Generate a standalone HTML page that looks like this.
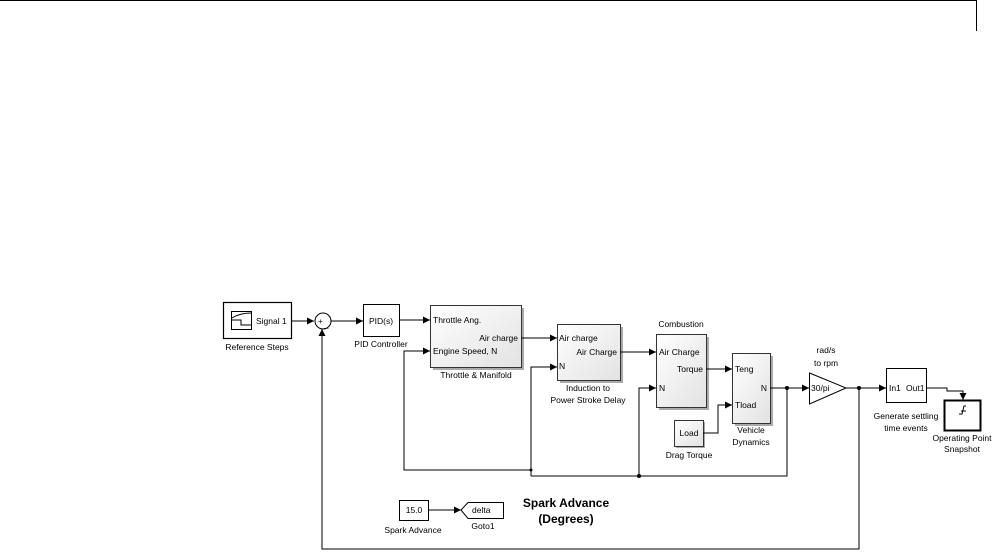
<!DOCTYPE html>
<html><head><meta charset="utf-8"><style>
html,body{margin:0;padding:0;background:#fff;}
svg{display:block;font-family:"Liberation Sans",Arial,sans-serif;}
</style></head><body>
<svg width="1000" height="557" viewBox="0 0 1000 557" xmlns="http://www.w3.org/2000/svg">
<defs>
<marker id="a" markerWidth="8" markerHeight="8" refX="7" refY="4" orient="auto" markerUnits="userSpaceOnUse"><path d="M0,0.5 L7,4 L0,7.5 z" fill="#000"/></marker>
<linearGradient id="g" x1="0" y1="0" x2="1" y2="1"><stop offset="0" stop-color="#fff"/><stop offset="1" stop-color="#e2e2e2"/></linearGradient>
</defs>
<line x1="0" y1="0.5" x2="976" y2="0.5" stroke="#000"/>
<line x1="976.5" y1="0" x2="976.5" y2="31" stroke="#000"/>
<g fill="none" stroke="#000" stroke-width="1">
<!-- Reference steps -->
<rect x="223.5" y="302.5" width="68" height="36" fill="#fff" stroke-width="1.2"/>
<rect x="231.5" y="311.5" width="20" height="18" fill="#fff"/>
<path d="M232,318 Q240,313 251,313 M232,320 H241 V325 H251"/>
<circle cx="323" cy="321" r="8" fill="#fff"/>
<rect x="363.5" y="304.5" width="36" height="32" fill="#fff"/>
<rect x="433" y="308" width="91" height="62" fill="#aaa" stroke="none"/>
<rect x="430.5" y="305.5" width="91" height="62" fill="url(#g)" stroke="#333"/>
<rect x="560" y="327" width="63" height="56" fill="#aaa" stroke="none"/>
<rect x="557.5" y="324.5" width="63" height="56" fill="url(#g)" stroke="#333"/>
<rect x="659" y="337" width="50" height="73" fill="#aaa" stroke="none"/>
<rect x="656.5" y="334.5" width="50" height="73" fill="url(#g)" stroke="#333"/>
<rect x="735" y="356" width="38" height="70" fill="#aaa" stroke="none"/>
<rect x="732.5" y="353.5" width="38" height="70" fill="url(#g)" stroke="#333"/>
<rect x="676" y="422" width="29" height="26" fill="#aaa" stroke="none"/>
<rect x="674.5" y="420.5" width="29" height="26" fill="url(#g)" stroke="#333"/>
<path d="M809.5,373 L846,388 L809.5,404 Z" fill="#fff"/>
<rect x="886.5" y="368.5" width="40" height="34" fill="#fff"/>
<rect x="944.5" y="400.5" width="36" height="30" fill="#fff" stroke-width="2"/>
<path d="M959,414 L962,414 L964,406 L966,406 M961,411 L966,411"/>
<rect x="399.5" y="500.5" width="29" height="20" fill="#fff"/>
<path d="M461,510 L468,502.5 H503.5 V518.5 H468 Z" fill="#fff"/>
<!-- connectors -->
<line x1="291" y1="321" x2="314" y2="321" marker-end="url(#a)"/>
<line x1="331" y1="321" x2="363" y2="321" marker-end="url(#a)"/>
<line x1="399" y1="320" x2="430" y2="320" marker-end="url(#a)"/>
<line x1="521" y1="338" x2="557" y2="338" marker-end="url(#a)"/>
<line x1="620" y1="352" x2="656" y2="352" marker-end="url(#a)"/>
<line x1="706" y1="369" x2="732" y2="369" marker-end="url(#a)"/>
<polyline points="703,433 718,433 718,405 732,405" marker-end="url(#a)"/>
<line x1="770" y1="388" x2="809" y2="388" marker-end="url(#a)"/>
<line x1="846" y1="388" x2="886" y2="388" marker-end="url(#a)"/>
<polyline points="926,388 947,388 947,391 963,391 963,400" marker-end="url(#a)"/>
<polyline points="787,388 787,476 531,476"/>
<polyline points="531,470 404,470 404,351 430,351" marker-end="url(#a)"/>
<polyline points="531,476 531,367 557,367" marker-end="url(#a)"/>
<polyline points="639,476 639,388 656,388" marker-end="url(#a)"/>
<polyline points="859,388 859,549 322,549 322,329" marker-end="url(#a)"/>
<line x1="428" y1="510" x2="461" y2="510" marker-end="url(#a)"/>
</g>
<g fill="#000">
<circle cx="787" cy="388" r="2"/><circle cx="859" cy="388" r="2"/>
<circle cx="639" cy="476" r="2"/><circle cx="531" cy="470" r="1.5"/>
</g>
<g font-size="8.5" fill="#000">
<text x="256" y="324">Signal 1</text>
<text x="257" y="350" text-anchor="middle">Reference Steps</text>
<text x="318" y="324" font-size="8">+</text><text x="324" y="327" font-size="8">_</text>
<text x="381" y="324" text-anchor="middle">PID(s)</text>
<text x="381" y="347" text-anchor="middle">PID Controller</text>
<text x="433" y="323">Throttle Ang.</text>
<text x="518" y="341" text-anchor="end">Air charge</text>
<text x="433" y="354">Engine Speed, N</text>
<text x="476" y="378" text-anchor="middle">Throttle &amp; Manifold</text>
<text x="559" y="341">Air charge</text>
<text x="617" y="355" text-anchor="end">Air Charge</text>
<text x="559" y="369">N</text>
<text x="588" y="391" text-anchor="middle">Induction to</text>
<text x="588" y="403" text-anchor="middle">Power Stroke Delay</text>
<text x="681" y="327" text-anchor="middle">Combustion</text>
<text x="659" y="355">Air Charge</text>
<text x="703" y="372" text-anchor="end">Torque</text>
<text x="659" y="391">N</text>
<text x="735" y="372">Teng</text>
<text x="767" y="391" text-anchor="end">N</text>
<text x="735" y="408">Tload</text>
<text x="751" y="433" text-anchor="middle">Vehicle</text>
<text x="751" y="445" text-anchor="middle">Dynamics</text>
<text x="689" y="436" text-anchor="middle">Load</text>
<text x="689" y="458" text-anchor="middle">Drag Torque</text>
<text x="826" y="353" text-anchor="middle">rad/s</text>
<text x="826" y="366" text-anchor="middle">to rpm</text>
<text x="811" y="391">30/pi</text>
<text x="889" y="391">In1</text><text x="906" y="391">Out1</text>
<text x="906" y="419" text-anchor="middle">Generate settling</text>
<text x="906" y="431" text-anchor="middle">time events</text>
<text x="962" y="441" text-anchor="middle">Operating Point</text>
<text x="962" y="452" text-anchor="middle">Snapshot</text>
<text x="414" y="513" text-anchor="middle">15.0</text>
<text x="413" y="533" text-anchor="middle">Spark Advance</text>
<text x="472" y="513">delta</text>
<text x="483" y="529" text-anchor="middle">Goto1</text>
</g>
<g font-size="12" font-weight="bold" text-anchor="middle">
<text x="566" y="507">Spark Advance</text>
<text x="566" y="523">(Degrees)</text>
</g>
</svg>
</body></html>
